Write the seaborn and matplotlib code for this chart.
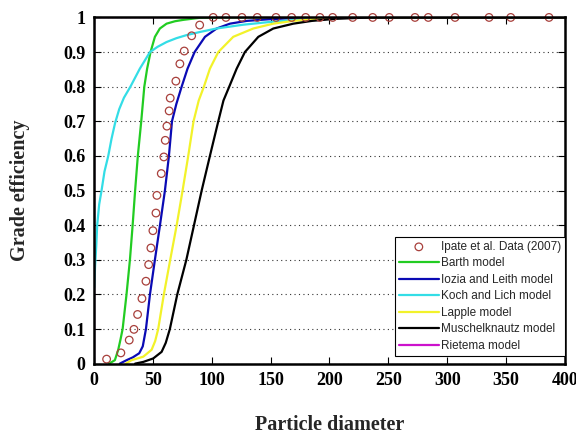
import matplotlib
matplotlib.use("Agg")
import matplotlib.pyplot as plt
import seaborn as sns
import pandas as pd

# ---------------- data ----------------
data_x = [10.8, 22.9, 30.0, 34.0, 37.1, 40.8, 44.2, 46.5, 48.4, 50.1, 52.7, 53.5,
          57.2, 59.4, 60.6, 62.0, 63.9, 64.8, 69.6, 73.0, 76.7, 83.0, 89.8,
          101.3, 112.1, 125.7, 138.7, 154.6, 167.9, 179.8, 191.9, 202.7, 219.7,
          236.7, 250.8, 272.6, 283.9, 306.6, 335.5, 353.9, 386.4]
data_y = [0.013, 0.031, 0.068, 0.099, 0.142, 0.188, 0.238, 0.286, 0.334, 0.384, 0.435, 0.486,
          0.549, 0.597, 0.645, 0.686, 0.730, 0.767, 0.816, 0.866, 0.903, 0.947, 0.978,
          1.0, 1.0, 1.0, 1.0, 1.0, 1.0, 1.0, 1.0, 1.0, 1.0,
          1.0, 1.0, 1.0, 1.0, 1.0, 1.0, 1.0, 1.0]

barth_x = [13, 17.8, 20.6, 22.6, 24.4, 27.7, 30.6, 32.9, 35.0, 37.3, 40.2, 42.8, 45.2,
           48.1, 51.8, 56.0, 61.7, 68.8, 75.9, 90, 110, 400]
barth_y = [0.0, 0.01, 0.039, 0.07, 0.1, 0.2, 0.3, 0.4, 0.5, 0.6, 0.7, 0.8, 0.852,
           0.9, 0.944, 0.968, 0.982, 0.989, 0.993, 0.999, 1.0, 1.0]

iozia_x = [22, 27.8, 33, 38.5, 41.5, 44.2, 47.6, 51.8, 56.1, 60.3, 63.7, 66.3, 70.0,
           74.5, 79.5, 85.5, 94.3, 104.2, 115.5, 129.7, 149.5, 175, 200, 400]
iozia_y = [0.0, 0.01, 0.018, 0.03, 0.05, 0.1, 0.2, 0.3, 0.4, 0.5, 0.6, 0.7, 0.75,
           0.8, 0.852, 0.9, 0.944, 0.968, 0.982, 0.99, 0.995, 0.999, 1.0, 1.0]

koch_x = [0.3, 1, 2, 2.8, 4.5, 6.5, 9, 12.2, 15, 18, 21.5, 25.5, 31, 39, 47.6, 54, 61.7,
          70, 78.7, 90, 104, 126.8, 149.5, 172, 200, 230, 400]
koch_y = [0.22, 0.28, 0.34, 0.4, 0.46, 0.5, 0.555, 0.6, 0.65, 0.695, 0.735, 0.768, 0.8, 0.852,
          0.9, 0.915, 0.929, 0.94, 0.949, 0.958, 0.968, 0.979, 0.987, 0.993, 0.998, 1.0, 1.0]

lapple_x = [27, 32, 41.9, 49, 52, 54.6, 59.4, 64.8, 70.3, 75.3, 80.1, 84.6, 89.0, 93.4,
            98.5, 105.6, 118.3, 135.3, 152.3, 169.3, 190, 215, 400]
lapple_y = [0.0, 0.01, 0.02, 0.04, 0.065, 0.1, 0.2, 0.3, 0.4, 0.5, 0.6, 0.7, 0.76, 0.8,
            0.852, 0.9, 0.944, 0.968, 0.982, 0.99, 0.996, 1.0, 1.0]

musch_x = [35, 42, 50.4, 57.5, 61, 64.5, 70.8, 78.5, 85, 91.5, 98.5, 105.6, 110, 114.9,
           121.2, 128.2, 139.6, 152.3, 169.3, 185, 205, 235, 400]
musch_y = [0.0, 0.005, 0.015, 0.034, 0.06, 0.1, 0.2, 0.3, 0.4, 0.5, 0.6, 0.7, 0.76, 0.8,
           0.852, 0.9, 0.944, 0.968, 0.982, 0.99, 0.996, 1.0, 1.0]

riet_x = [0.5, 0.5, 400]
riet_y = [0.0, 1.0, 1.0]

x_ticks = [0, 50, 100, 150, 200, 250, 300, 350, 400]
y_ticks = [0, 0.1, 0.2, 0.3, 0.4, 0.5, 0.6, 0.7, 0.8, 0.9, 1.0]
y_tick_labels = ["0", "0.1", "0.2", "0.3", "0.4", "0.5", "0.6", "0.7", "0.8", "0.9", "1"]

series = [
    ("Barth model", barth_x, barth_y, "#22cc22"),
    ("Iozia and Leith model", iozia_x, iozia_y, "#0a0ab4"),
    ("Koch and Lich model", koch_x, koch_y, "#33dde6"),
    ("Lapple model", lapple_x, lapple_y, "#f2f22a"),
    ("Muschelknautz model", musch_x, musch_y, "#000000"),
    ("Rietema model", riet_x, riet_y, "#cc11cc"),
]

# ---------------- figure ----------------
sns.set_theme(style="white")
plt.rcParams['font.family'] = ['Liberation Serif', 'DejaVu Serif']

fig = plt.figure(figsize=(5.76, 4.36), dpi=100)
ax = fig.add_axes([0.163, 0.166, 0.818, 0.794])

dfd = pd.DataFrame({"x": data_x, "y": data_y})
sns.scatterplot(data=dfd, x="x", y="y", ax=ax, marker="o", s=30,
                facecolor="none", edgecolor="#a8403c", linewidth=0.9,
                label="Ipate et al. Data (2007)", clip_on=False, zorder=5)

for name, xs, ys, col in series:
    d = pd.DataFrame({"x": xs, "y": ys})
    sns.lineplot(data=d, x="x", y="y", ax=ax, color=col, linewidth=1.6,
                 sort=False, estimator=None, label=name, zorder=3)

ax.set_xlim(0, 400)
ax.set_ylim(0, 1)
ax.set_xticks(x_ticks)
ax.set_xticklabels([str(t) for t in x_ticks])
ax.set_yticks(y_ticks)
ax.set_yticklabels(y_tick_labels)

ax.yaxis.grid(True, linestyle=(0, (1, 3)), color="#333333", linewidth=0.8)
ax.xaxis.grid(False)
ax.set_axisbelow(True)

ax.tick_params(direction="in", length=5, width=0.8, top=True, right=True,
               bottom=True, left=True, labelsize=13, pad=6, colors="black")
for lab in ax.get_xticklabels() + ax.get_yticklabels():
    lab.set_fontweight("bold")
for sp in ax.spines.values():
    sp.set_visible(True)
    sp.set_color("black")
    sp.set_linewidth(1.8)
    sp.set_zorder(6)

ax.set_xlabel("Particle diameter", fontsize=14.5, fontweight="bold", labelpad=19)
ax.set_ylabel("Grade efficiency", fontsize=14.5, fontweight="bold", labelpad=24)

leg = ax.legend(loc="lower right", bbox_to_anchor=(1.0, 0.022), borderaxespad=0,
                prop={"family": "Liberation Sans", "size": 8.5},
                frameon=True, fancybox=False, framealpha=1, edgecolor="black",
                handlelength=3.4, handletextpad=0.15, labelspacing=0.38,
                borderpad=0.35)
leg.get_frame().set_linewidth(0.8)
leg.set_zorder(10)

fig.savefig("out.png", dpi=100)
